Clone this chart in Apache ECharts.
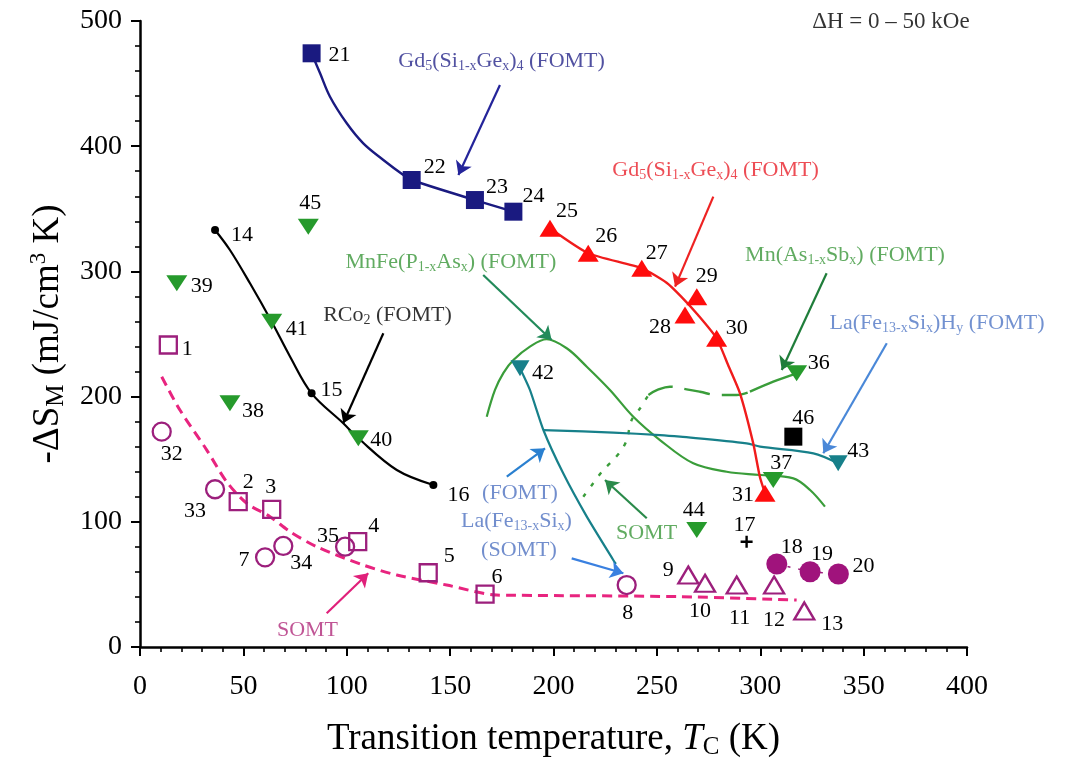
<!DOCTYPE html>
<html><head><meta charset="utf-8">
<script src="https://cdn.jsdelivr.net/npm/echarts@6/dist/echarts.min.js"></script>
<style>html,body{margin:0;padding:0;background:#fff}#c{width:1066px;height:760px}</style>
</head><body><div id="c"></div>
<script>
// ---------------- data ----------------
const pinkSquares   = [[13.7,241.2],[47.5,116.1],[63.7,110],[105.3,84.1],[139.4,59.3],[166.9,42.3]];
const pinkSquareIds = ['1','2','3','4','5','6'];
const pinkCircles   = [[10.5,172],[36.3,126],[60.5,71.6],[69.3,80.7],[99.2,80.1],[235.4,49.5]];
const pinkCircleIds = ['32','33','7','34','35','8'];
const pinkTriangles   = [[265.2,57.5],[273.3,50.9],[288.6,49.5],[306.7,49.5],[321.3,28.8]];
const pinkTriangleIds = ['9','10','11','12','13'];
const purpleDots   = [[308,66.3],[324.1,60.1],[337.8,58.3]];
const purpleDotIds = ['18','19','20'];
const rco2Points = [[36.3,333.1],[83,202.6],[141.9,129.4]];
const rco2Ids    = ['14','15','16'];
const plusPoints = [[293.4,84.1]];
const plusIds    = ['17'];
const blackSquares   = [[316,168]];
const blackSquareIds = ['46'];
const gdBluePoints = [[83,474.2],[131.4,373],[162,357],[180.6,347.7]];
const gdBlueIds    = ['21','22','23','24'];
const gdRedPoints  = [[198.3,334.4],[216.8,314.5],[242.7,302.5],[263.6,265.2],[269.3,279.8],[278.9,246.6],[302.3,122.8]];
const gdRedIds     = ['25','26','27','28','29','30','31'];
const greenTriangles   = [[81.4,335.7],[17.8,290.5],[63.7,259.8],[43.5,194.6],[105.6,166.7],[317.6,218.6],[306.3,133.4],[269.3,93.5]];
const greenTriangleIds = ['45','39','41','38','40','36','37','44'];
const tealTriangles   = [[183.8,222.6],[337.7,146.7]];
const tealTriangleIds = ['42','43'];

// curves
const gdBlueCurve = [[83,474.2],[87.1,458.2],[91.9,439.5],[100,418.3],[108,402.3],[117.7,389],[127.4,377],[131.4,373],[162,357],[180.6,347.7]];
const gdRedCurve  = [[198.3,334.4],[216.8,314.5],[242.7,302.5],[254.7,291],[262,279.5],[270,265],[278.9,246.6],[284.5,225],[290.2,202.6],[296.6,162.7],[299.8,136],[302.3,122.8]];
const rco2Curve   = [[36.3,333.1],[43.5,317.1],[53.2,290.5],[63.7,259.8],[72.6,231.9],[83,202.6],[98.3,178.7],[105.6,166.7],[124.2,141.4],[141.9,129.4]];
const somtCurve   = [[10.5,215.9],[19.3,189.3],[32.3,157.3],[41.9,132],[51.6,114.8],[62.9,104.1],[72.6,92.1],[85.5,80.1],[107.9,65.5],[124.2,57.5],[148.3,49.5],[172.5,41.5],[180.6,41.3],[261.2,40.2],[317.6,37.5]];
const mnfeCurve   = [[167.7,183.9],[171.7,205.3],[175.8,219],[180.6,229.2],[188.6,239.9],[196.7,245.8],[206.4,238.6],[216.1,223.9],[227.3,205.3],[238.6,183.9],[251.5,165.3],[267.6,146.7],[283.8,140],[299.9,137.4],[316,134.7],[324.1,125.4],[331.3,112.1]];
const mnAsSbSomt  = [[214.4,120],[219.2,130.8],[224.1,141.4],[228.9,149.4],[232.9,157.3],[235.4,165.3],[237.8,181.3],[241.9,190.7],[245.9,201.3]];
const mnAsSbFomt  = [[245.9,201.3],[250.5,205.5],[256.3,207.9],[264.4,205.8],[270.8,203.9],[278.9,201.3],[288.6,201.3],[295,203.9]];
const mnAsSbEnd   = [[295,203.9],[306.3,211.9],[317.6,218.6]];
const laFeSiCurve = [[183.8,222.6],[188.6,205.3],[195.1,173.3],[204.7,138.7],[216.1,104.1],[228.9,69.5],[230.2,66.3]];
const laFeSiHCurve= [[195.1,173.3],[228.9,171.2],[251.5,169.3],[261.2,168],[293.4,162.7],[299.9,160],[325.7,154.7],[337.7,146.7]];

// ---------------- styles / placement (not data) ----------------
const FONT = 'Liberation Serif';
const labelOffset = {
 '1':[19,4],'2':[10,-19],'3':[-1,-22],'4':[16,-15],'5':[21,-17],'6':[12,-17],'7':[-21,3],'8':[1,28],
 '9':[-20,-5],'10':[-5,28],'11':[3,33],'12':[0,35],'13':[28,13],'14':[27,5],'15':[20,-3],'16':[25,10],
 '17':[-2,-16],'18':[15,-17],'19':[12,-18],'20':[25,-8],'21':[28,2],'22':[23,-13],'23':[22,-13],'24':[20,-15],
 '25':[17,-17],'26':[18,-17],'27':[15,-15],'28':[-25,12],'29':[10,-20],'30':[20,-10],'31':[-22,2],
 '32':[10,23],'33':[-20,22],'34':[18,17],'35':[-17,-10],'36':[22,-10],'37':[8,-17],'38':[23,8],'39':[25,3],
 '40':[23,2],'41':[25,7],'42':[23,5],'43':[20,-12],'44':[-3,-20],'45':[2,-23],'46':[10,-18]
};
const C = {
  pinkLine:'#e8247f', purple:'#9c1f7c', navy:'#1a1a80', red:'#f01c1c', green:'#269a2c',
  greenLine:'#3a9d3a', teal:'#17808a', black:'#000'
};

const notes = [
  {t:'Gd{s|5}(Si{s|1-x}Ge{s|x}){s|4} (FOMT)', at:[174.9,467.6], c:'#26268a'},
  {t:'Gd{s|5}(Si{s|1-x}Ge{s|x}){s|4} (FOMT)', at:[278.4,381], c:'#e8202a'},
  {t:'MnFe(P{s|1-x}As{s|x}) (FOMT)', at:[150.4,307.1], c:'#3a963a'},
  {t:'Mn(As{s|1-x}Sb{s|x}) (FOMT)', at:[341,313.1], c:'#3a963a'},
  {t:'La(Fe{s|13-x}Si{s|x})H{s|y} (FOMT)', at:[385.5,258.8], c:'#4f76c4'},
  {t:'RCo{s|2} (FOMT)', at:[119.7,265.2], c:'#000'},
  {t:'(FOMT)', at:[183.8,122.8], c:'#4f72c0'},
  {t:'La(Fe{s|13-x}Si{s|x})', at:[182.1,100.1], c:'#4f72c0'},
  {t:'(SOMT)', at:[183.3,77.5], c:'#4f72c0'},
  {t:'SOMT', at:[245,90.8], c:'#3a963a'},
  {t:'SOMT', at:[81,13.6], c:'#b02a7a'},
  {t:'\u0394H = 0 \u2013 50 kOe', at:[363.2,499.2], c:'#000', size:23}
];
const arrows = [
  {from:[174.1,448.9], to:[154,377], c:'#24249a'},
  {from:[277.3,359.7], to:[258.8,287.8], c:'#ee2222'},
  {from:[166,297.1], to:[199.1,245.2], c:'#228a5a'},
  {from:[332.1,298.5], to:[310.4,221.2], c:'#1f7d3a'},
  {from:[361.2,242.6], to:[330.5,154.7], c:'#4a88d8'},
  {from:[117.7,250.6], to:[98.3,178.7], c:'#000'},
  {from:[177.4,136], to:[195.9,158.7], c:'#2a80d0'},
  {from:[208.8,70.8], to:[233.8,58.9], c:'#3a80e0'},
  {from:[245.1,102.8], to:[224.9,133.4], c:'#2a8a4a'},
  {from:[90.3,26.9], to:[110.4,58.9], c:'#e0207a'}
];

function pts(arr, ids){
  return arr.map((p,i)=>({value:p, name:ids[i], label:{offset:labelOffset[ids[i]]}}));
}
function marks(name, arr, ids, symbol, size, itemStyle, extra){
  return Object.assign({
    type:'scatter', name, data:pts(arr,ids), symbol, symbolSize:size,
    itemStyle:Object.assign({opacity:1}, itemStyle), z:6,
    silent:true, animation:false,
    label:{show:true, position:'inside', formatter:'{b}', color:'#000', fontSize:22, fontFamily:FONT}
  }, extra||{});
}
function curve(data, color, width, type, smooth, z){
  return {type:'line', data, symbol:'none', showSymbol:false, smooth,
          silent:true, animation:false, lineStyle:{color, width, type}, z:z||3};
}
function richFor(color, size){
  return {
    s:{fontSize:Math.round(size*0.64), fontFamily:FONT, color, padding:[Math.round(size*0.45),0,0,0]}
  };
}
const openStyle = {color:'rgba(0,0,0,0)', borderColor:C.purple, borderWidth:2.3};

const series = [
  curve(mnfeCurve, C.greenLine, 2.2, 'solid', 0.35, 2),
  curve(mnAsSbSomt, C.greenLine, 2.4, [4,9], 0.3, 2),
  curve(mnAsSbFomt, C.greenLine, 2.4, [26,12], 0.4, 2),
  curve(mnAsSbEnd, C.greenLine, 2.4, 'solid', 0.3, 2),
  curve(laFeSiCurve, C.teal, 2.2, 'solid', 0.2, 2),
  curve(laFeSiHCurve, C.teal, 2.2, 'solid', 0.3, 2),
  curve(somtCurve, C.pinkLine, 3, [10,6], 0.3, 2),
  curve(purpleDots, C.purple, 1.5, [3,8], false, 2),
  curve(rco2Curve, C.black, 2.2, 'solid', 0.35, 3),
  curve(gdBlueCurve, C.navy, 2.4, 'solid', 0.35, 3),
  curve(gdRedCurve, C.red, 2.4, 'solid', 0.2, 3),
  {type:'lines', coordinateSystem:'cartesian2d', silent:true, animation:false, z:4,
   symbol:['none','arrow'], symbolSize:[1,13],
   lineStyle:{width:2.2, opacity:1},
   data: arrows.map(a=>({coords:[a.from,a.to], lineStyle:{color:a.c, width:2.2}, itemStyle:{color:a.c}}))},
  marks('pinkSquares', pinkSquares, pinkSquareIds, 'rect', 17, openStyle),
  marks('pinkCircles', pinkCircles, pinkCircleIds, 'circle', 18, openStyle),
  marks('pinkTriangles', pinkTriangles, pinkTriangleIds, 'triangle', [20,17], openStyle),
  marks('purpleDots', purpleDots, purpleDotIds, 'circle', 21, {color:'#a0137c'}),
  marks('rco2', rco2Points, rco2Ids, 'circle', 8, {color:'#000'}),
  marks('plus', plusPoints, plusIds, 'path://M4,0H6V4H10V6H6V10H4V6H0V4H4Z', 12, {color:'#000'}),
  marks('blackSquare', blackSquares, blackSquareIds, 'rect', 18, {color:'#000'}),
  marks('gdBlue', gdBluePoints, gdBlueIds, 'rect', 18, {color:C.navy}),
  marks('gdRed', gdRedPoints, gdRedIds, 'triangle', [21,17], {color:'#ff0c0c'}),
  marks('green', greenTriangles, greenTriangleIds, 'triangle', [21,16], {color:C.green}, {symbolRotate:180}),
  marks('teal', tealTriangles, tealTriangleIds, 'triangle', [19,16], {color:C.teal}, {symbolRotate:180}),
  {type:'scatter', name:'notes', symbol:'circle', symbolSize:1, itemStyle:{color:'rgba(0,0,0,0)'},
   silent:true, animation:false, z:7,
   data: notes.map(n=>({value:n.at, label:{show:true, position:'inside', formatter:n.t, color:n.c,
     fontSize:n.size||22, fontFamily:FONT, rich:richFor(n.c,n.size||22)}}))}
];

const chart = echarts.init(document.getElementById('c'), null, {renderer:'canvas'});
chart.setOption({
  backgroundColor:'#fff',
  animation:false,
  textStyle:{fontFamily:FONT},
  grid:{left:140, right:99, top:21, bottom:113, containLabel:false, outerBoundsMode:'none'},
  xAxis:{
    type:'value', min:0, max:400, interval:50,
    axisLine:{show:true, onZero:false, lineStyle:{color:'#000', width:2.5}},
    axisTick:{show:true, inside:false, length:9, lineStyle:{color:'#000', width:2}},
    minorTick:{show:true, splitNumber:5, length:5, lineStyle:{color:'#000', width:1.6}},
    splitLine:{show:false},
    axisLabel:{color:'#000', fontSize:28, fontFamily:FONT, margin:26},
    name:'Transition temperature, {it|T}{sub|C} (K)', nameLocation:'middle', nameGap:71,
    nameTextStyle:{color:'#000', fontSize:37, fontFamily:FONT,
      rich:{it:{fontStyle:'italic', fontSize:37, fontFamily:FONT, color:'#000'},
            sub:{fontSize:25, fontFamily:FONT, color:'#000', padding:[17,0,0,0]}}}
  },
  yAxis:{
    type:'value', min:0, max:500, interval:100,
    axisLine:{show:true, onZero:false, lineStyle:{color:'#000', width:2.5}},
    axisTick:{show:true, inside:false, length:9, lineStyle:{color:'#000', width:2}},
    minorTick:{show:true, splitNumber:5, length:5, lineStyle:{color:'#000', width:1.6}},
    splitLine:{show:false},
    axisLabel:{color:'#000', fontSize:28, fontFamily:FONT, margin:18},
    name:'-\u0394S{sub|M} (mJ/cm{sup|3} K)', nameLocation:'middle', nameRotate:90, nameGap:51,
    nameTextStyle:{color:'#000', fontSize:37, fontFamily:FONT,
      rich:{sub:{fontSize:25, fontFamily:FONT, color:'#000', padding:[17,0,0,0]},
            sup:{fontSize:23, fontFamily:FONT, color:'#000', padding:[0,0,19,0]}}}
  },
  series
});
</script></body></html>
